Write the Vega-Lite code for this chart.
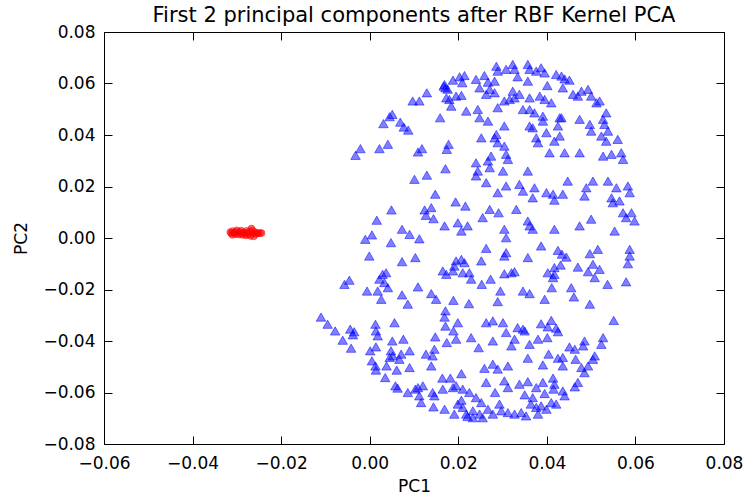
{
  "$schema": "https://vega.github.io/schema/vega-lite/v6.json",
  "width": 620,
  "height": 412,
  "autosize": {"type": "none"},
  "padding": {"left": 104, "top": 32, "right": 23, "bottom": 55},
  "title": {
    "text": "First 2 principal components after RBF Kernel PCA",
    "font": "DejaVu Sans",
    "fontSize": 21,
    "fontWeight": "normal",
    "color": "#000000",
    "anchor": "middle",
    "baseline": "alphabetic",
    "offset": -20
  },
  "config": {
    "view": {"stroke": "#000000", "strokeWidth": 1},
    "axis": {
      "labelFont": "DejaVu Sans",
      "labelFontSize": 17,
      "labelColor": "#000000",
      "titleFont": "DejaVu Sans",
      "titleFontSize": 17,
      "titleFontWeight": "normal",
      "titleColor": "#000000",
      "tickColor": "#000000",
      "tickWidth": 1,
      "grid": false,
      "domain": false,
      "labelFlush": false,
      "labelOverlap": false
    }
  },
  "datasets": {
    "inner": [
      {"pc1": -0.0315, "pc2": 0.0023}, {"pc1": -0.0313, "pc2": 0.0018}, {"pc1": -0.0310, "pc2": 0.0027}, {"pc1": -0.0307, "pc2": 0.0020},
      {"pc1": -0.0304, "pc2": 0.0015}, {"pc1": -0.0302, "pc2": 0.0025}, {"pc1": -0.0299, "pc2": 0.0019}, {"pc1": -0.0296, "pc2": 0.0013},
      {"pc1": -0.0293, "pc2": 0.0024}, {"pc1": -0.0290, "pc2": 0.0018}, {"pc1": -0.0288, "pc2": 0.0012}, {"pc1": -0.0285, "pc2": 0.0022},
      {"pc1": -0.0282, "pc2": 0.0016}, {"pc1": -0.0280, "pc2": 0.0010}, {"pc1": -0.0277, "pc2": 0.0021}, {"pc1": -0.0274, "pc2": 0.0014},
      {"pc1": -0.0271, "pc2": 0.0026}, {"pc1": -0.0269, "pc2": 0.0008}, {"pc1": -0.0267, "pc2": 0.0037}, {"pc1": -0.0265, "pc2": 0.0030},
      {"pc1": -0.0264, "pc2": 0.0017}, {"pc1": -0.0262, "pc2": 0.0006}, {"pc1": -0.0260, "pc2": 0.0024}, {"pc1": -0.0257, "pc2": 0.0015},
      {"pc1": -0.0254, "pc2": 0.0020}, {"pc1": -0.0251, "pc2": 0.0018}, {"pc1": -0.0247, "pc2": 0.0020}, {"pc1": -0.0244, "pc2": 0.0019},
      {"pc1": -0.0300, "pc2": 0.0030}, {"pc1": -0.0290, "pc2": 0.0029}, {"pc1": -0.0310, "pc2": 0.0012}, {"pc1": -0.0278, "pc2": 0.0028}
    ],
    "outer": [
      {"pc1": 0.0214, "pc2": 0.0631}, {"pc1": 0.0203, "pc2": 0.0626}, {"pc1": 0.0188, "pc2": 0.0613}, {"pc1": 0.0209, "pc2": 0.0603},
      {"pc1": 0.0169, "pc2": 0.0596}, {"pc1": 0.0171, "pc2": 0.0583}, {"pc1": 0.0167, "pc2": 0.0590}, {"pc1": 0.0176, "pc2": 0.0578},
      {"pc1": 0.0129, "pc2": 0.0564}, {"pc1": 0.0097, "pc2": 0.0532}, {"pc1": 0.0112, "pc2": 0.0532}, {"pc1": 0.0173, "pc2": 0.0544},
      {"pc1": 0.0195, "pc2": 0.0551}, {"pc1": 0.0207, "pc2": 0.0554}, {"pc1": 0.0180, "pc2": 0.0538}, {"pc1": 0.0184, "pc2": 0.0512},
      {"pc1": 0.0218, "pc2": 0.0493}, {"pc1": 0.0159, "pc2": 0.0467}, {"pc1": 0.0051, "pc2": 0.0480}, {"pc1": 0.0045, "pc2": 0.0471},
      {"pc1": 0.0031, "pc2": 0.0444}, {"pc1": 0.0069, "pc2": 0.0450}, {"pc1": 0.0077, "pc2": 0.0431}, {"pc1": 0.0087, "pc2": 0.0419},
      {"pc1": -0.0021, "pc2": 0.0347}, {"pc1": -0.0032, "pc2": 0.0321}, {"pc1": 0.0022, "pc2": 0.0347}, {"pc1": 0.0041, "pc2": 0.0364},
      {"pc1": 0.0109, "pc2": 0.0334}, {"pc1": 0.0118, "pc2": 0.0347}, {"pc1": 0.0178, "pc2": 0.0364}, {"pc1": 0.0174, "pc2": 0.0344},
      {"pc1": 0.0171, "pc2": 0.0269}, {"pc1": 0.0129, "pc2": 0.0244}, {"pc1": 0.0101, "pc2": 0.0228}, {"pc1": 0.0148, "pc2": 0.0170},
      {"pc1": 0.0194, "pc2": 0.0140}, {"pc1": 0.0216, "pc2": 0.0124}, {"pc1": 0.0124, "pc2": 0.0109}, {"pc1": 0.0139, "pc2": 0.0118},
      {"pc1": 0.0127, "pc2": 0.0088}, {"pc1": 0.0144, "pc2": 0.0075}, {"pc1": 0.0049, "pc2": 0.0109}, {"pc1": 0.0016, "pc2": 0.0069},
      {"pc1": 0.0169, "pc2": 0.0047}, {"pc1": 0.0199, "pc2": 0.0059}, {"pc1": 0.0221, "pc2": 0.0047}, {"pc1": 0.0207, "pc2": 0.0027},
      {"pc1": 0.0073, "pc2": 0.0034}, {"pc1": 0.0090, "pc2": 0.0014}, {"pc1": 0.0005, "pc2": 0.0012}, {"pc1": -0.0010, "pc2": -0.0005},
      {"pc1": 0.0112, "pc2": -0.0003},
      {"pc1": 0.0259, "pc2": 0.0631}, {"pc1": 0.0240, "pc2": 0.0616}, {"pc1": 0.0248, "pc2": 0.0583}, {"pc1": 0.0267, "pc2": 0.0605},
      {"pc1": 0.0282, "pc2": 0.0609}, {"pc1": 0.0271, "pc2": 0.0577}, {"pc1": 0.0263, "pc2": 0.0558}, {"pc1": 0.0282, "pc2": 0.0564},
      {"pc1": 0.0286, "pc2": 0.0667}, {"pc1": 0.0289, "pc2": 0.0648}, {"pc1": 0.0308, "pc2": 0.0655}, {"pc1": 0.0323, "pc2": 0.0674},
      {"pc1": 0.0327, "pc2": 0.0655}, {"pc1": 0.0334, "pc2": 0.0626}, {"pc1": 0.0357, "pc2": 0.0674}, {"pc1": 0.0361, "pc2": 0.0655},
      {"pc1": 0.0376, "pc2": 0.0648}, {"pc1": 0.0387, "pc2": 0.0661}, {"pc1": 0.0395, "pc2": 0.0641}, {"pc1": 0.0421, "pc2": 0.0635},
      {"pc1": 0.0433, "pc2": 0.0629}, {"pc1": 0.0440, "pc2": 0.0618}, {"pc1": 0.0451, "pc2": 0.0613}, {"pc1": 0.0436, "pc2": 0.0583},
      {"pc1": 0.0357, "pc2": 0.0609}, {"pc1": 0.0401, "pc2": 0.0592}, {"pc1": 0.0323, "pc2": 0.0570}, {"pc1": 0.0338, "pc2": 0.0558},
      {"pc1": 0.0327, "pc2": 0.0544}, {"pc1": 0.0361, "pc2": 0.0544}, {"pc1": 0.0384, "pc2": 0.0551}, {"pc1": 0.0395, "pc2": 0.0538},
      {"pc1": 0.0410, "pc2": 0.0525}, {"pc1": 0.0459, "pc2": 0.0558}, {"pc1": 0.0470, "pc2": 0.0551}, {"pc1": 0.0478, "pc2": 0.0570},
      {"pc1": 0.0493, "pc2": 0.0577}, {"pc1": 0.0500, "pc2": 0.0551}, {"pc1": 0.0512, "pc2": 0.0525}, {"pc1": 0.0519, "pc2": 0.0532},
      {"pc1": 0.0534, "pc2": 0.0486}, {"pc1": 0.0289, "pc2": 0.0506}, {"pc1": 0.0304, "pc2": 0.0532}, {"pc1": 0.0316, "pc2": 0.0538},
      {"pc1": 0.0346, "pc2": 0.0499}, {"pc1": 0.0361, "pc2": 0.0499}, {"pc1": 0.0372, "pc2": 0.0486}, {"pc1": 0.0391, "pc2": 0.0473},
      {"pc1": 0.0391, "pc2": 0.0454}, {"pc1": 0.0433, "pc2": 0.0467}, {"pc1": 0.0474, "pc2": 0.0461}, {"pc1": 0.0497, "pc2": 0.0441},
      {"pc1": 0.0500, "pc2": 0.0415}, {"pc1": 0.0527, "pc2": 0.0461}, {"pc1": 0.0530, "pc2": 0.0441}, {"pc1": 0.0538, "pc2": 0.0415},
      {"pc1": 0.0523, "pc2": 0.0396}, {"pc1": 0.0534, "pc2": 0.0376}, {"pc1": 0.0560, "pc2": 0.0383}, {"pc1": 0.0244, "pc2": 0.0499},
      {"pc1": 0.0248, "pc2": 0.0467}, {"pc1": 0.0267, "pc2": 0.0454}, {"pc1": 0.0304, "pc2": 0.0435}, {"pc1": 0.0286, "pc2": 0.0402},
      {"pc1": 0.0282, "pc2": 0.0389}, {"pc1": 0.0289, "pc2": 0.0370}, {"pc1": 0.0252, "pc2": 0.0389}, {"pc1": 0.0361, "pc2": 0.0435},
      {"pc1": 0.0368, "pc2": 0.0428}, {"pc1": 0.0376, "pc2": 0.0389}, {"pc1": 0.0380, "pc2": 0.0370}, {"pc1": 0.0399, "pc2": 0.0409},
      {"pc1": 0.0417, "pc2": 0.0376}, {"pc1": 0.0429, "pc2": 0.0396}, {"pc1": 0.0425, "pc2": 0.0435}, {"pc1": 0.0429, "pc2": 0.0467},
      {"pc1": 0.0304, "pc2": 0.0357}, {"pc1": 0.0308, "pc2": 0.0325}, {"pc1": 0.0312, "pc2": 0.0305}, {"pc1": 0.0274, "pc2": 0.0318},
      {"pc1": 0.0267, "pc2": 0.0299}, {"pc1": 0.0271, "pc2": 0.0273}, {"pc1": 0.0240, "pc2": 0.0292}, {"pc1": 0.0244, "pc2": 0.0260},
      {"pc1": 0.0240, "pc2": 0.0241}, {"pc1": 0.0406, "pc2": 0.0331}, {"pc1": 0.0440, "pc2": 0.0331}, {"pc1": 0.0474, "pc2": 0.0331},
      {"pc1": 0.0527, "pc2": 0.0318}, {"pc1": 0.0546, "pc2": 0.0325}, {"pc1": 0.0568, "pc2": 0.0331}, {"pc1": 0.0572, "pc2": 0.0305},
      {"pc1": 0.0301, "pc2": 0.0260}, {"pc1": 0.0357, "pc2": 0.0260}, {"pc1": 0.0263, "pc2": 0.0215}, {"pc1": 0.0308, "pc2": 0.0202},
      {"pc1": 0.0338, "pc2": 0.0208}, {"pc1": 0.0346, "pc2": 0.0182}, {"pc1": 0.0372, "pc2": 0.0195}, {"pc1": 0.0368, "pc2": 0.0156},
      {"pc1": 0.0289, "pc2": 0.0176}, {"pc1": 0.0399, "pc2": 0.0176}, {"pc1": 0.0414, "pc2": 0.0170}, {"pc1": 0.0417, "pc2": 0.0147},
      {"pc1": 0.0436, "pc2": 0.0170}, {"pc1": 0.0447, "pc2": 0.0221}, {"pc1": 0.0489, "pc2": 0.0195}, {"pc1": 0.0485, "pc2": 0.0163},
      {"pc1": 0.0504, "pc2": 0.0221}, {"pc1": 0.0538, "pc2": 0.0221}, {"pc1": 0.0557, "pc2": 0.0195}, {"pc1": 0.0583, "pc2": 0.0202},
      {"pc1": 0.0587, "pc2": 0.0176}, {"pc1": 0.0546, "pc2": 0.0156}, {"pc1": 0.0549, "pc2": 0.0137}, {"pc1": 0.0564, "pc2": 0.0144},
      {"pc1": 0.0572, "pc2": 0.0098}, {"pc1": 0.0579, "pc2": 0.0079}, {"pc1": 0.0591, "pc2": 0.0098}, {"pc1": 0.0598, "pc2": 0.0066},
      {"pc1": 0.0271, "pc2": 0.0111}, {"pc1": 0.0255, "pc2": 0.0079}, {"pc1": 0.0291, "pc2": 0.0098}, {"pc1": 0.0331, "pc2": 0.0111},
      {"pc1": 0.0357, "pc2": 0.0066}, {"pc1": 0.0361, "pc2": 0.0047}, {"pc1": 0.0368, "pc2": 0.0034}, {"pc1": 0.0304, "pc2": 0.0034},
      {"pc1": 0.0308, "pc2": 0.0001}, {"pc1": 0.0417, "pc2": 0.0034}, {"pc1": 0.0474, "pc2": 0.0047}, {"pc1": 0.0500, "pc2": 0.0073},
      {"pc1": 0.0553, "pc2": 0.0027},
      {"pc1": 0.0048, "pc2": -0.0018}, {"pc1": -0.0001, "pc2": -0.0070}, {"pc1": 0.0073, "pc2": -0.0092}, {"pc1": 0.0103, "pc2": -0.0076},
      {"pc1": 0.0195, "pc2": -0.0089}, {"pc1": 0.0207, "pc2": -0.0083}, {"pc1": 0.0214, "pc2": -0.0096}, {"pc1": 0.0191, "pc2": -0.0109},
      {"pc1": 0.0165, "pc2": -0.0128}, {"pc1": 0.0173, "pc2": -0.0141}, {"pc1": 0.0188, "pc2": -0.0128}, {"pc1": 0.0210, "pc2": -0.0135},
      {"pc1": 0.0225, "pc2": -0.0135}, {"pc1": 0.0229, "pc2": -0.0160}, {"pc1": -0.0057, "pc2": -0.0180}, {"pc1": -0.0046, "pc2": -0.0164},
      {"pc1": 0.0029, "pc2": -0.0141}, {"pc1": 0.0037, "pc2": -0.0135}, {"pc1": 0.0022, "pc2": -0.0160}, {"pc1": 0.0033, "pc2": -0.0173},
      {"pc1": 0.0041, "pc2": -0.0193}, {"pc1": -0.0006, "pc2": -0.0206}, {"pc1": 0.0018, "pc2": -0.0206}, {"pc1": 0.0026, "pc2": -0.0238},
      {"pc1": 0.0073, "pc2": -0.0221}, {"pc1": 0.0086, "pc2": -0.0257}, {"pc1": 0.0109, "pc2": -0.0190}, {"pc1": 0.0139, "pc2": -0.0216},
      {"pc1": 0.0150, "pc2": -0.0238}, {"pc1": 0.0189, "pc2": -0.0242}, {"pc1": 0.0224, "pc2": -0.0255}, {"pc1": -0.0110, "pc2": -0.0307},
      {"pc1": -0.0095, "pc2": -0.0335}, {"pc1": -0.0078, "pc2": -0.0361}, {"pc1": -0.0061, "pc2": -0.0397}, {"pc1": -0.0042, "pc2": -0.0428},
      {"pc1": -0.0044, "pc2": -0.0354}, {"pc1": -0.0035, "pc2": -0.0364}, {"pc1": -0.0038, "pc2": -0.0376}, {"pc1": 0.0013, "pc2": -0.0335},
      {"pc1": 0.0014, "pc2": -0.0361}, {"pc1": 0.0018, "pc2": -0.0380}, {"pc1": 0.0014, "pc2": -0.0423}, {"pc1": 0.0001, "pc2": -0.0438},
      {"pc1": 0.0056, "pc2": -0.0329}, {"pc1": 0.0051, "pc2": -0.0400}, {"pc1": 0.0076, "pc2": -0.0393}, {"pc1": 0.0048, "pc2": -0.0438},
      {"pc1": 0.0052, "pc2": -0.0458}, {"pc1": 0.0071, "pc2": -0.0451}, {"pc1": 0.0090, "pc2": -0.0438}, {"pc1": 0.0067, "pc2": -0.0471},
      {"pc1": 0.0045, "pc2": -0.0464}, {"pc1": 0.0005, "pc2": -0.0477}, {"pc1": 0.0013, "pc2": -0.0497}, {"pc1": 0.0014, "pc2": -0.0513},
      {"pc1": 0.0038, "pc2": -0.0497}, {"pc1": 0.0035, "pc2": -0.0542}, {"pc1": 0.0061, "pc2": -0.0513}, {"pc1": 0.0090, "pc2": -0.0503},
      {"pc1": 0.0171, "pc2": -0.0283}, {"pc1": 0.0169, "pc2": -0.0307}, {"pc1": 0.0171, "pc2": -0.0342}, {"pc1": 0.0199, "pc2": -0.0329},
      {"pc1": 0.0189, "pc2": -0.0361}, {"pc1": 0.0195, "pc2": -0.0393}, {"pc1": 0.0174, "pc2": -0.0406}, {"pc1": 0.0148, "pc2": -0.0384},
      {"pc1": 0.0127, "pc2": -0.0451}, {"pc1": 0.0146, "pc2": -0.0432}, {"pc1": 0.0142, "pc2": -0.0458}, {"pc1": 0.0139, "pc2": -0.0497},
      {"pc1": 0.0229, "pc2": -0.0387}, {"pc1": 0.0058, "pc2": -0.0574}, {"pc1": 0.0063, "pc2": -0.0583}, {"pc1": 0.0086, "pc2": -0.0600},
      {"pc1": 0.0103, "pc2": -0.0587}, {"pc1": 0.0109, "pc2": -0.0581}, {"pc1": 0.0120, "pc2": -0.0574}, {"pc1": 0.0112, "pc2": -0.0613},
      {"pc1": 0.0116, "pc2": -0.0639}, {"pc1": 0.0142, "pc2": -0.0600}, {"pc1": 0.0146, "pc2": -0.0613}, {"pc1": 0.0165, "pc2": -0.0587},
      {"pc1": 0.0164, "pc2": -0.0544}, {"pc1": 0.0182, "pc2": -0.0544}, {"pc1": 0.0207, "pc2": -0.0527}, {"pc1": 0.0188, "pc2": -0.0581},
      {"pc1": 0.0195, "pc2": -0.0574}, {"pc1": 0.0210, "pc2": -0.0587}, {"pc1": 0.0225, "pc2": -0.0600}, {"pc1": 0.0144, "pc2": -0.0656},
      {"pc1": 0.0169, "pc2": -0.0665}, {"pc1": 0.0191, "pc2": -0.0684}, {"pc1": 0.0199, "pc2": -0.0645}, {"pc1": 0.0207, "pc2": -0.0630},
      {"pc1": 0.0210, "pc2": -0.0658}, {"pc1": 0.0218, "pc2": -0.0684}, {"pc1": 0.0233, "pc2": -0.0671}, {"pc1": 0.0233, "pc2": -0.0698},
      {"pc1": 0.0221, "pc2": -0.0693},
      {"pc1": 0.0263, "pc2": -0.0040}, {"pc1": 0.0308, "pc2": -0.0057}, {"pc1": 0.0304, "pc2": -0.0070}, {"pc1": 0.0252, "pc2": -0.0089},
      {"pc1": 0.0357, "pc2": -0.0076}, {"pc1": 0.0387, "pc2": -0.0031}, {"pc1": 0.0425, "pc2": -0.0048}, {"pc1": 0.0434, "pc2": -0.0063},
      {"pc1": 0.0444, "pc2": -0.0074}, {"pc1": 0.0497, "pc2": -0.0061}, {"pc1": 0.0515, "pc2": -0.0044}, {"pc1": 0.0587, "pc2": -0.0044},
      {"pc1": 0.0587, "pc2": -0.0070}, {"pc1": 0.0583, "pc2": -0.0100}, {"pc1": 0.0579, "pc2": -0.0170}, {"pc1": 0.0304, "pc2": -0.0139},
      {"pc1": 0.0320, "pc2": -0.0135}, {"pc1": 0.0327, "pc2": -0.0131}, {"pc1": 0.0273, "pc2": -0.0160}, {"pc1": 0.0253, "pc2": -0.0180},
      {"pc1": 0.0295, "pc2": -0.0206}, {"pc1": 0.0289, "pc2": -0.0247}, {"pc1": 0.0346, "pc2": -0.0206}, {"pc1": 0.0361, "pc2": -0.0216},
      {"pc1": 0.0395, "pc2": -0.0238}, {"pc1": 0.0402, "pc2": -0.0135}, {"pc1": 0.0417, "pc2": -0.0141}, {"pc1": 0.0414, "pc2": -0.0154},
      {"pc1": 0.0417, "pc2": -0.0115}, {"pc1": 0.0431, "pc2": -0.0105}, {"pc1": 0.0411, "pc2": -0.0193}, {"pc1": 0.0455, "pc2": -0.0193},
      {"pc1": 0.0461, "pc2": -0.0229}, {"pc1": 0.0470, "pc2": -0.0113}, {"pc1": 0.0504, "pc2": -0.0102}, {"pc1": 0.0493, "pc2": -0.0131},
      {"pc1": 0.0519, "pc2": -0.0122}, {"pc1": 0.0508, "pc2": -0.0154}, {"pc1": 0.0537, "pc2": -0.0180}, {"pc1": 0.0497, "pc2": -0.0257},
      {"pc1": 0.0551, "pc2": -0.0320}, {"pc1": 0.0263, "pc2": -0.0329}, {"pc1": 0.0278, "pc2": -0.0322}, {"pc1": 0.0301, "pc2": -0.0329},
      {"pc1": 0.0308, "pc2": -0.0367}, {"pc1": 0.0334, "pc2": -0.0348}, {"pc1": 0.0346, "pc2": -0.0354}, {"pc1": 0.0350, "pc2": -0.0361},
      {"pc1": 0.0387, "pc2": -0.0333}, {"pc1": 0.0410, "pc2": -0.0320}, {"pc1": 0.0402, "pc2": -0.0345}, {"pc1": 0.0421, "pc2": -0.0350},
      {"pc1": 0.0425, "pc2": -0.0364}, {"pc1": 0.0278, "pc2": -0.0400}, {"pc1": 0.0246, "pc2": -0.0426}, {"pc1": 0.0327, "pc2": -0.0393},
      {"pc1": 0.0320, "pc2": -0.0419}, {"pc1": 0.0361, "pc2": -0.0413}, {"pc1": 0.0380, "pc2": -0.0393}, {"pc1": 0.0401, "pc2": -0.0387},
      {"pc1": 0.0357, "pc2": -0.0467}, {"pc1": 0.0404, "pc2": -0.0451}, {"pc1": 0.0391, "pc2": -0.0493}, {"pc1": 0.0425, "pc2": -0.0467},
      {"pc1": 0.0436, "pc2": -0.0464}, {"pc1": 0.0436, "pc2": -0.0497}, {"pc1": 0.0451, "pc2": -0.0423}, {"pc1": 0.0463, "pc2": -0.0432},
      {"pc1": 0.0485, "pc2": -0.0400}, {"pc1": 0.0482, "pc2": -0.0419}, {"pc1": 0.0465, "pc2": -0.0471}, {"pc1": 0.0478, "pc2": -0.0503},
      {"pc1": 0.0485, "pc2": -0.0523}, {"pc1": 0.0493, "pc2": -0.0497}, {"pc1": 0.0504, "pc2": -0.0471}, {"pc1": 0.0508, "pc2": -0.0458},
      {"pc1": 0.0527, "pc2": -0.0387}, {"pc1": 0.0523, "pc2": -0.0413}, {"pc1": 0.0259, "pc2": -0.0506}, {"pc1": 0.0278, "pc2": -0.0490},
      {"pc1": 0.0289, "pc2": -0.0509}, {"pc1": 0.0312, "pc2": -0.0497}, {"pc1": 0.0263, "pc2": -0.0561}, {"pc1": 0.0283, "pc2": -0.0600},
      {"pc1": 0.0304, "pc2": -0.0555}, {"pc1": 0.0312, "pc2": -0.0581}, {"pc1": 0.0338, "pc2": -0.0568}, {"pc1": 0.0357, "pc2": -0.0558},
      {"pc1": 0.0350, "pc2": -0.0609}, {"pc1": 0.0368, "pc2": -0.0620}, {"pc1": 0.0376, "pc2": -0.0581}, {"pc1": 0.0391, "pc2": -0.0561},
      {"pc1": 0.0395, "pc2": -0.0604}, {"pc1": 0.0414, "pc2": -0.0544}, {"pc1": 0.0417, "pc2": -0.0568}, {"pc1": 0.0415, "pc2": -0.0587},
      {"pc1": 0.0436, "pc2": -0.0594}, {"pc1": 0.0440, "pc2": -0.0613}, {"pc1": 0.0463, "pc2": -0.0578}, {"pc1": 0.0470, "pc2": -0.0561},
      {"pc1": 0.0240, "pc2": -0.0620}, {"pc1": 0.0252, "pc2": -0.0639}, {"pc1": 0.0267, "pc2": -0.0665}, {"pc1": 0.0248, "pc2": -0.0684},
      {"pc1": 0.0255, "pc2": -0.0698}, {"pc1": 0.0278, "pc2": -0.0684}, {"pc1": 0.0293, "pc2": -0.0645}, {"pc1": 0.0297, "pc2": -0.0671},
      {"pc1": 0.0312, "pc2": -0.0678}, {"pc1": 0.0327, "pc2": -0.0684}, {"pc1": 0.0342, "pc2": -0.0678}, {"pc1": 0.0353, "pc2": -0.0691},
      {"pc1": 0.0364, "pc2": -0.0645}, {"pc1": 0.0376, "pc2": -0.0658}, {"pc1": 0.0380, "pc2": -0.0684}, {"pc1": 0.0399, "pc2": -0.0665},
      {"pc1": 0.0410, "pc2": -0.0639}, {"pc1": 0.0421, "pc2": -0.0645}, {"pc1": 0.0387, "pc2": -0.0652}
    ]
  },
  "layer": [
    {
      "data": {"name": "inner"},
      "mark": {
        "type": "point",
        "shape": "circle",
        "filled": true,
        "size": 45,
        "fill": "#ff0000",
        "stroke": "#ff0000",
        "strokeWidth": 1,
        "fillOpacity": 0.5,
        "strokeOpacity": 0.5
      },
      "encoding": {
        "x": {
          "field": "pc1",
          "type": "quantitative",
          "scale": {"domain": [-0.06, 0.08], "nice": false, "zero": false},
          "axis": {
            "orient": "bottom",
            "values": [-0.06, -0.04, -0.02, 0, 0.02, 0.04, 0.06, 0.08],
            "format": ".2f",
            "tickSize": -8,
            "labelPadding": 19,
            "title": "PC1",
            "titlePadding": 7
          }
        },
        "y": {
          "field": "pc2",
          "type": "quantitative",
          "scale": {"domain": [-0.08, 0.08], "nice": false, "zero": false},
          "axis": {
            "orient": "left",
            "values": [-0.08, -0.06, -0.04, -0.02, 0, 0.02, 0.04, 0.06, 0.08],
            "format": ".2f",
            "tickSize": -8,
            "labelPadding": 17,
            "title": "PC2",
            "titlePadding": 12
          }
        }
      }
    },
    {
      "data": {"name": "outer"},
      "mark": {
        "type": "point",
        "shape": "triangle-up",
        "filled": true,
        "size": 90,
        "fill": "#0000ff",
        "stroke": "#0000ff",
        "strokeWidth": 1,
        "fillOpacity": 0.5,
        "strokeOpacity": 0.5
      },
      "encoding": {
        "x": {
          "field": "pc1",
          "type": "quantitative",
          "scale": {"domain": [-0.06, 0.08], "nice": false, "zero": false},
          "axis": {
            "orient": "top",
            "values": [-0.06, -0.04, -0.02, 0, 0.02, 0.04, 0.06, 0.08],
            "tickSize": -8,
            "labels": false,
            "title": null
          }
        },
        "y": {
          "field": "pc2",
          "type": "quantitative",
          "scale": {"domain": [-0.08, 0.08], "nice": false, "zero": false},
          "axis": {
            "orient": "right",
            "values": [-0.08, -0.06, -0.04, -0.02, 0, 0.02, 0.04, 0.06, 0.08],
            "tickSize": -8,
            "labels": false,
            "title": null
          }
        }
      }
    }
  ],
  "resolve": {"axis": {"x": "independent", "y": "independent"}}
}
